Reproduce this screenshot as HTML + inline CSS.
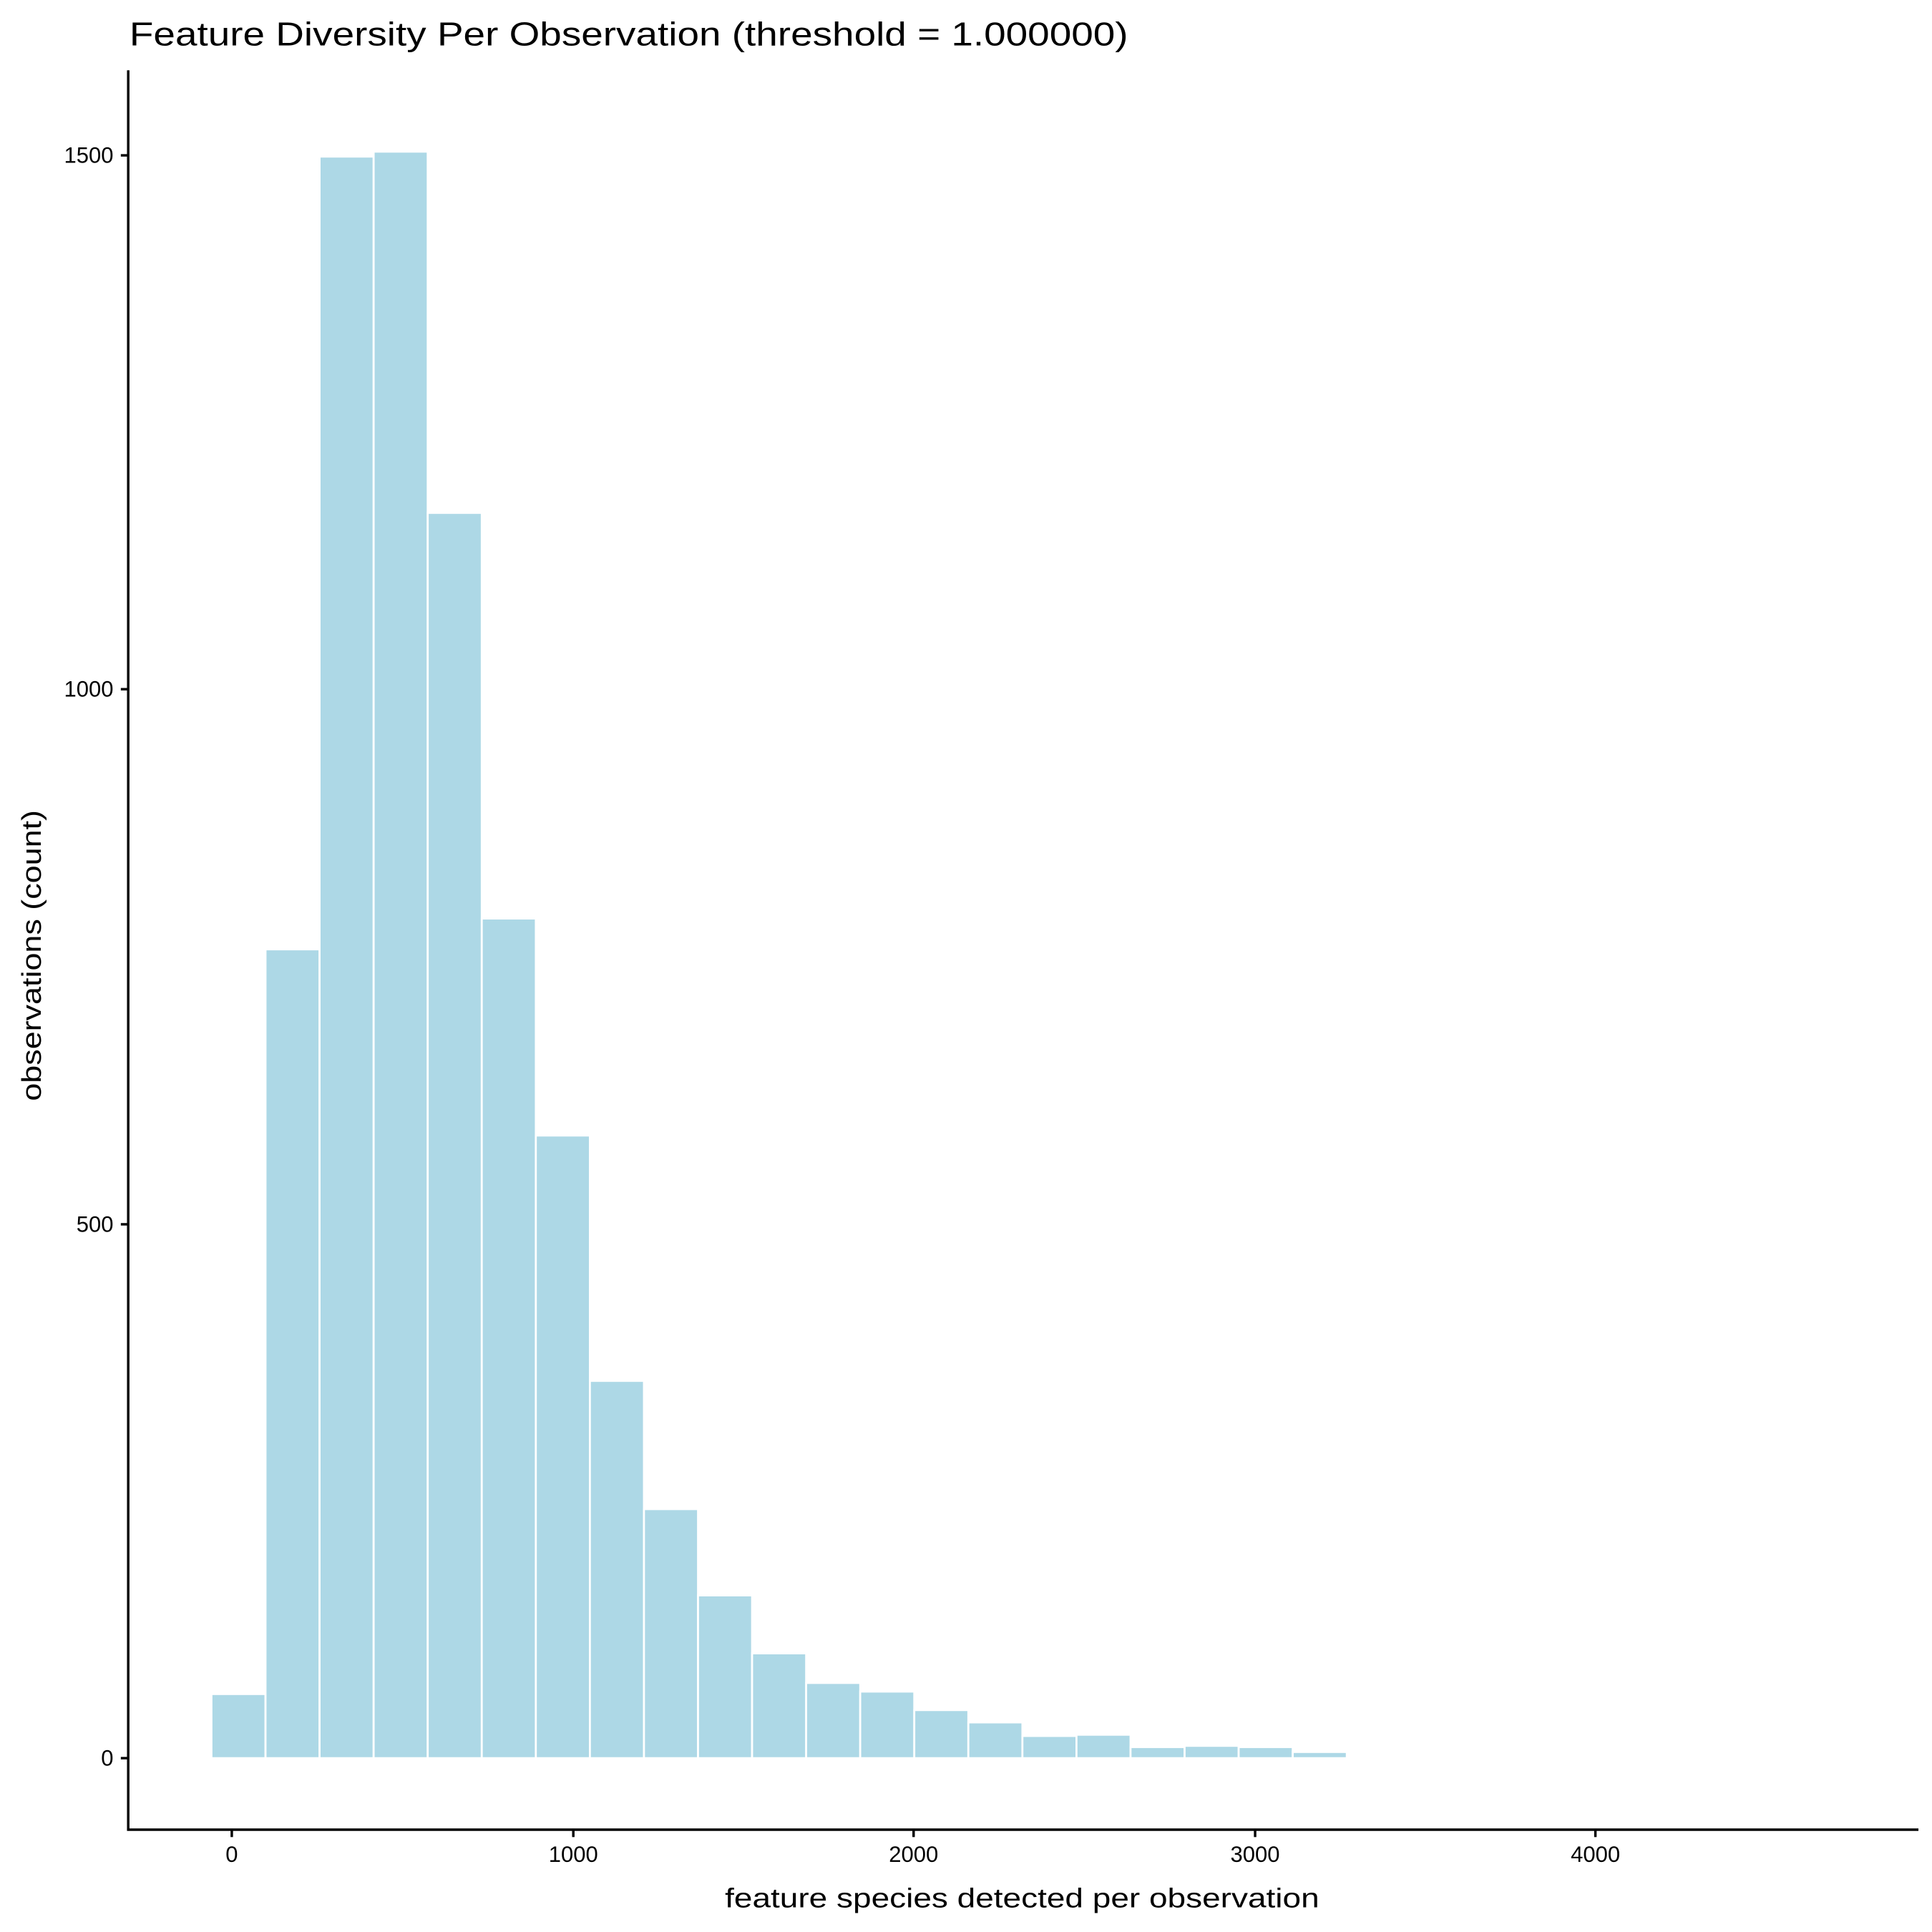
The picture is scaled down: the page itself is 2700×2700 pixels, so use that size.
<!DOCTYPE html>
<html><head><meta charset="utf-8"><style>html,body{margin:0;padding:0;background:#fff}svg{display:block}</style></head>
<body>
<svg width="2700" height="2700" viewBox="0 0 1567 1567" xmlns="http://www.w3.org/2000/svg" font-family="Liberation Sans, Arial, sans-serif">
<rect width="1567" height="1567" fill="#fff"/>
<g fill="#add8e6" stroke="#ffffff" stroke-width="1.6">
<rect x="171.5" y="1374" width="43.85" height="52"/>
<rect x="215.35" y="770" width="43.85" height="656"/>
<rect x="259.2" y="127" width="43.85" height="1299"/>
<rect x="303.05" y="123" width="43.85" height="1303"/>
<rect x="346.9" y="416" width="43.85" height="1010"/>
<rect x="390.75" y="745" width="43.85" height="681"/>
<rect x="434.6" y="921" width="43.85" height="505"/>
<rect x="478.45" y="1120" width="43.85" height="306"/>
<rect x="522.3" y="1224" width="43.85" height="202"/>
<rect x="566.15" y="1294" width="43.85" height="132"/>
<rect x="610" y="1341" width="43.85" height="85"/>
<rect x="653.85" y="1365" width="43.85" height="61"/>
<rect x="697.7" y="1372" width="43.85" height="54"/>
<rect x="741.55" y="1387" width="43.85" height="39"/>
<rect x="785.4" y="1397" width="43.85" height="29"/>
<rect x="829.25" y="1408" width="43.85" height="18"/>
<rect x="873.1" y="1407" width="43.85" height="19"/>
<rect x="916.95" y="1417" width="43.85" height="9"/>
<rect x="960.8" y="1416" width="43.85" height="10"/>
<rect x="1004.65" y="1417" width="43.85" height="9"/>
<rect x="1048.5" y="1421" width="43.85" height="5"/>
</g>
<g stroke="#000" stroke-width="2" fill="none">
<line x1="104" y1="57" x2="104" y2="1484"/>
<line x1="103" y1="1484" x2="1556" y2="1484"/>
<line x1="98" y1="126" x2="104" y2="126"/>
<line x1="98" y1="559" x2="104" y2="559"/>
<line x1="98" y1="993" x2="104" y2="993"/>
<line x1="98" y1="1426" x2="104" y2="1426"/>
<line x1="188" y1="1484" x2="188" y2="1490"/>
<line x1="465" y1="1484" x2="465" y2="1490"/>
<line x1="741" y1="1484" x2="741" y2="1490"/>
<line x1="1018" y1="1484" x2="1018" y2="1490"/>
<line x1="1294" y1="1484" x2="1294" y2="1490"/>
</g>
<g font-size="18" fill="#000" text-anchor="end">
<text x="92" y="132">1500</text>
<text x="92" y="565">1000</text>
<text x="92" y="999">500</text>
<text x="92" y="1432">0</text>
</g>
<g font-size="18" fill="#000" text-anchor="middle">
<text x="188" y="1510">0</text>
<text x="465" y="1510">1000</text>
<text x="741" y="1510">2000</text>
<text x="1018" y="1510">3000</text>
<text x="1294" y="1510">4000</text>
</g>
<text x="588" y="1547" font-size="22" textLength="482" lengthAdjust="spacingAndGlyphs">feature species detected per observation</text>
<text transform="translate(33,893) rotate(-90)" font-size="22" textLength="236" lengthAdjust="spacingAndGlyphs">observations (count)</text>
<text x="105" y="37" font-size="27" textLength="810" lengthAdjust="spacingAndGlyphs">Feature Diversity Per Observation (threshold = 1.000000)</text>
</svg>
</body></html>
